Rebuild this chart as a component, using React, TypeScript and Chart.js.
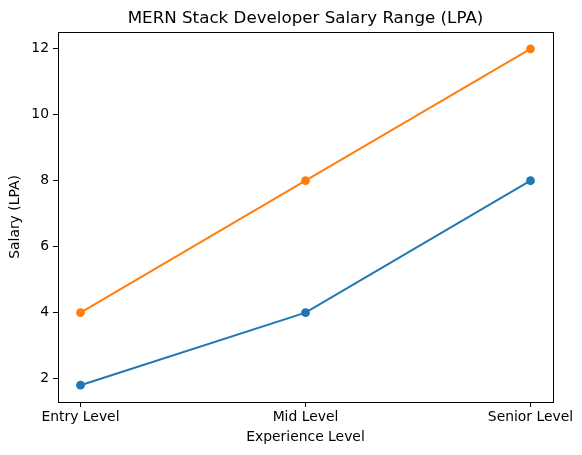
import React, { useEffect, useRef } from "react";
import { Chart, registerables } from "chart.js";

Chart.register(...registerables);

const categories = ["Entry Level", "Mid Level", "Senior Level"];
const minSalary = [1.8, 4, 8];
const maxSalary = [4, 8, 12];
const yTicks = [2, 4, 6, 8, 10, 12];
const titleText = "MERN Stack Developer Salary Range (LPA)";
const xTitle = "Experience Level";
const yTitle = "Salary (LPA)";

const FONT = "'DejaVu Sans', sans-serif";

export default function App() {
  const ref = useRef<HTMLCanvasElement>(null);
  useEffect(() => {
    if (!ref.current) return;
    const framePlugin = {
      id: "frame",
      afterDraw(chart: any) {
        const { ctx, chartArea } = chart;
        ctx.save();
        ctx.strokeStyle = "#000";
        ctx.lineWidth = 1;
        ctx.strokeRect(
          Math.round(chartArea.left) + 0.5,
          Math.round(chartArea.top) + 0.5,
          Math.round(chartArea.right - chartArea.left),
          Math.round(chartArea.bottom - chartArea.top)
        );
        ctx.fillStyle = "#000";
        ctx.font = `16.7px ${FONT}`;
        ctx.textAlign = "center";
        ctx.textBaseline = "alphabetic";
        ctx.fillText(titleText, (chartArea.left + chartArea.right) / 2, 23);
        ctx.restore();
      },
    };
    const mk = (data: number[]) => data.map((v, i) => ({ x: i, y: v }));
    const chart = new Chart(ref.current, {
      type: "line",
      data: {
        datasets: [
          {
            label: "Min",
            data: mk(minSalary),
            borderColor: "#1f77b4",
            backgroundColor: "#1f77b4",
            borderWidth: 2,
            pointRadius: 4.4,
            pointBorderWidth: 0,
            pointHoverRadius: 4.4,
          },
          {
            label: "Max",
            data: mk(maxSalary),
            borderColor: "#ff7f0e",
            backgroundColor: "#ff7f0e",
            borderWidth: 2,
            pointRadius: 4.4,
            pointBorderWidth: 0,
            pointHoverRadius: 4.4,
          },
        ],
      },
      options: {
        animation: false,
        responsive: false,
        devicePixelRatio: 1,
        layout: { padding: { top: 32, right: 29, left: 0, bottom: 0 } },
        plugins: {
          legend: { display: false },
          title: { display: false },
          tooltip: { enabled: false },
        },
        scales: {
          x: {
            type: "linear",
            min: -0.1,
            max: 2.1,
            afterBuildTicks: (s: any) => {
              s.ticks = categories.map((_, i) => ({ value: i }));
            },
            afterFit: (s: any) => {
              s.height = 53;
            },
            ticks: {
              color: "#000",
              font: { family: FONT, size: 13.9 },
              padding: 2,
              maxRotation: 0,
              autoSkip: false,
              callback: (v: any) => categories[v as number] ?? "",
            },
            grid: {
              display: true,
              drawOnChartArea: false,
              drawTicks: true,
              tickLength: 5,
              color: "#000",
            },
            border: { display: true, color: "#000" },
            title: {
              display: true,
              text: xTitle,
              color: "#000",
              font: { family: FONT, size: 13.9 },
              padding: { top: 0, bottom: 9.5 },
            },
          },
          y: {
            type: "linear",
            min: 1.29,
            max: 12.51,
            afterBuildTicks: (s: any) => {
              s.ticks = yTicks.map((v) => ({ value: v }));
            },
            afterFit: (s: any) => {
              s.width = 58;
            },
            ticks: {
              color: "#000",
              font: { family: FONT, size: 13.9 },
              padding: 4,
              callback: (v: any) => String(v),
            },
            grid: {
              display: true,
              drawOnChartArea: false,
              drawTicks: true,
              tickLength: 5,
              color: "#000",
            },
            border: { display: true, color: "#000" },
            title: {
              display: true,
              text: yTitle,
              color: "#000",
              font: { family: FONT, size: 13.9 },
              padding: { top: 7.5, bottom: 0 },
            },
          },
        },
      },
      plugins: [framePlugin],
    } as any);
    return () => chart.destroy();
  }, []);
  return (
    <div style={{ position: "fixed", left: 0, top: 0, width: 582, height: 455, background: "#fff" }}>
      <canvas ref={ref} width={582} height={455} style={{ width: 582, height: 455 }} />
    </div>
  );
}
